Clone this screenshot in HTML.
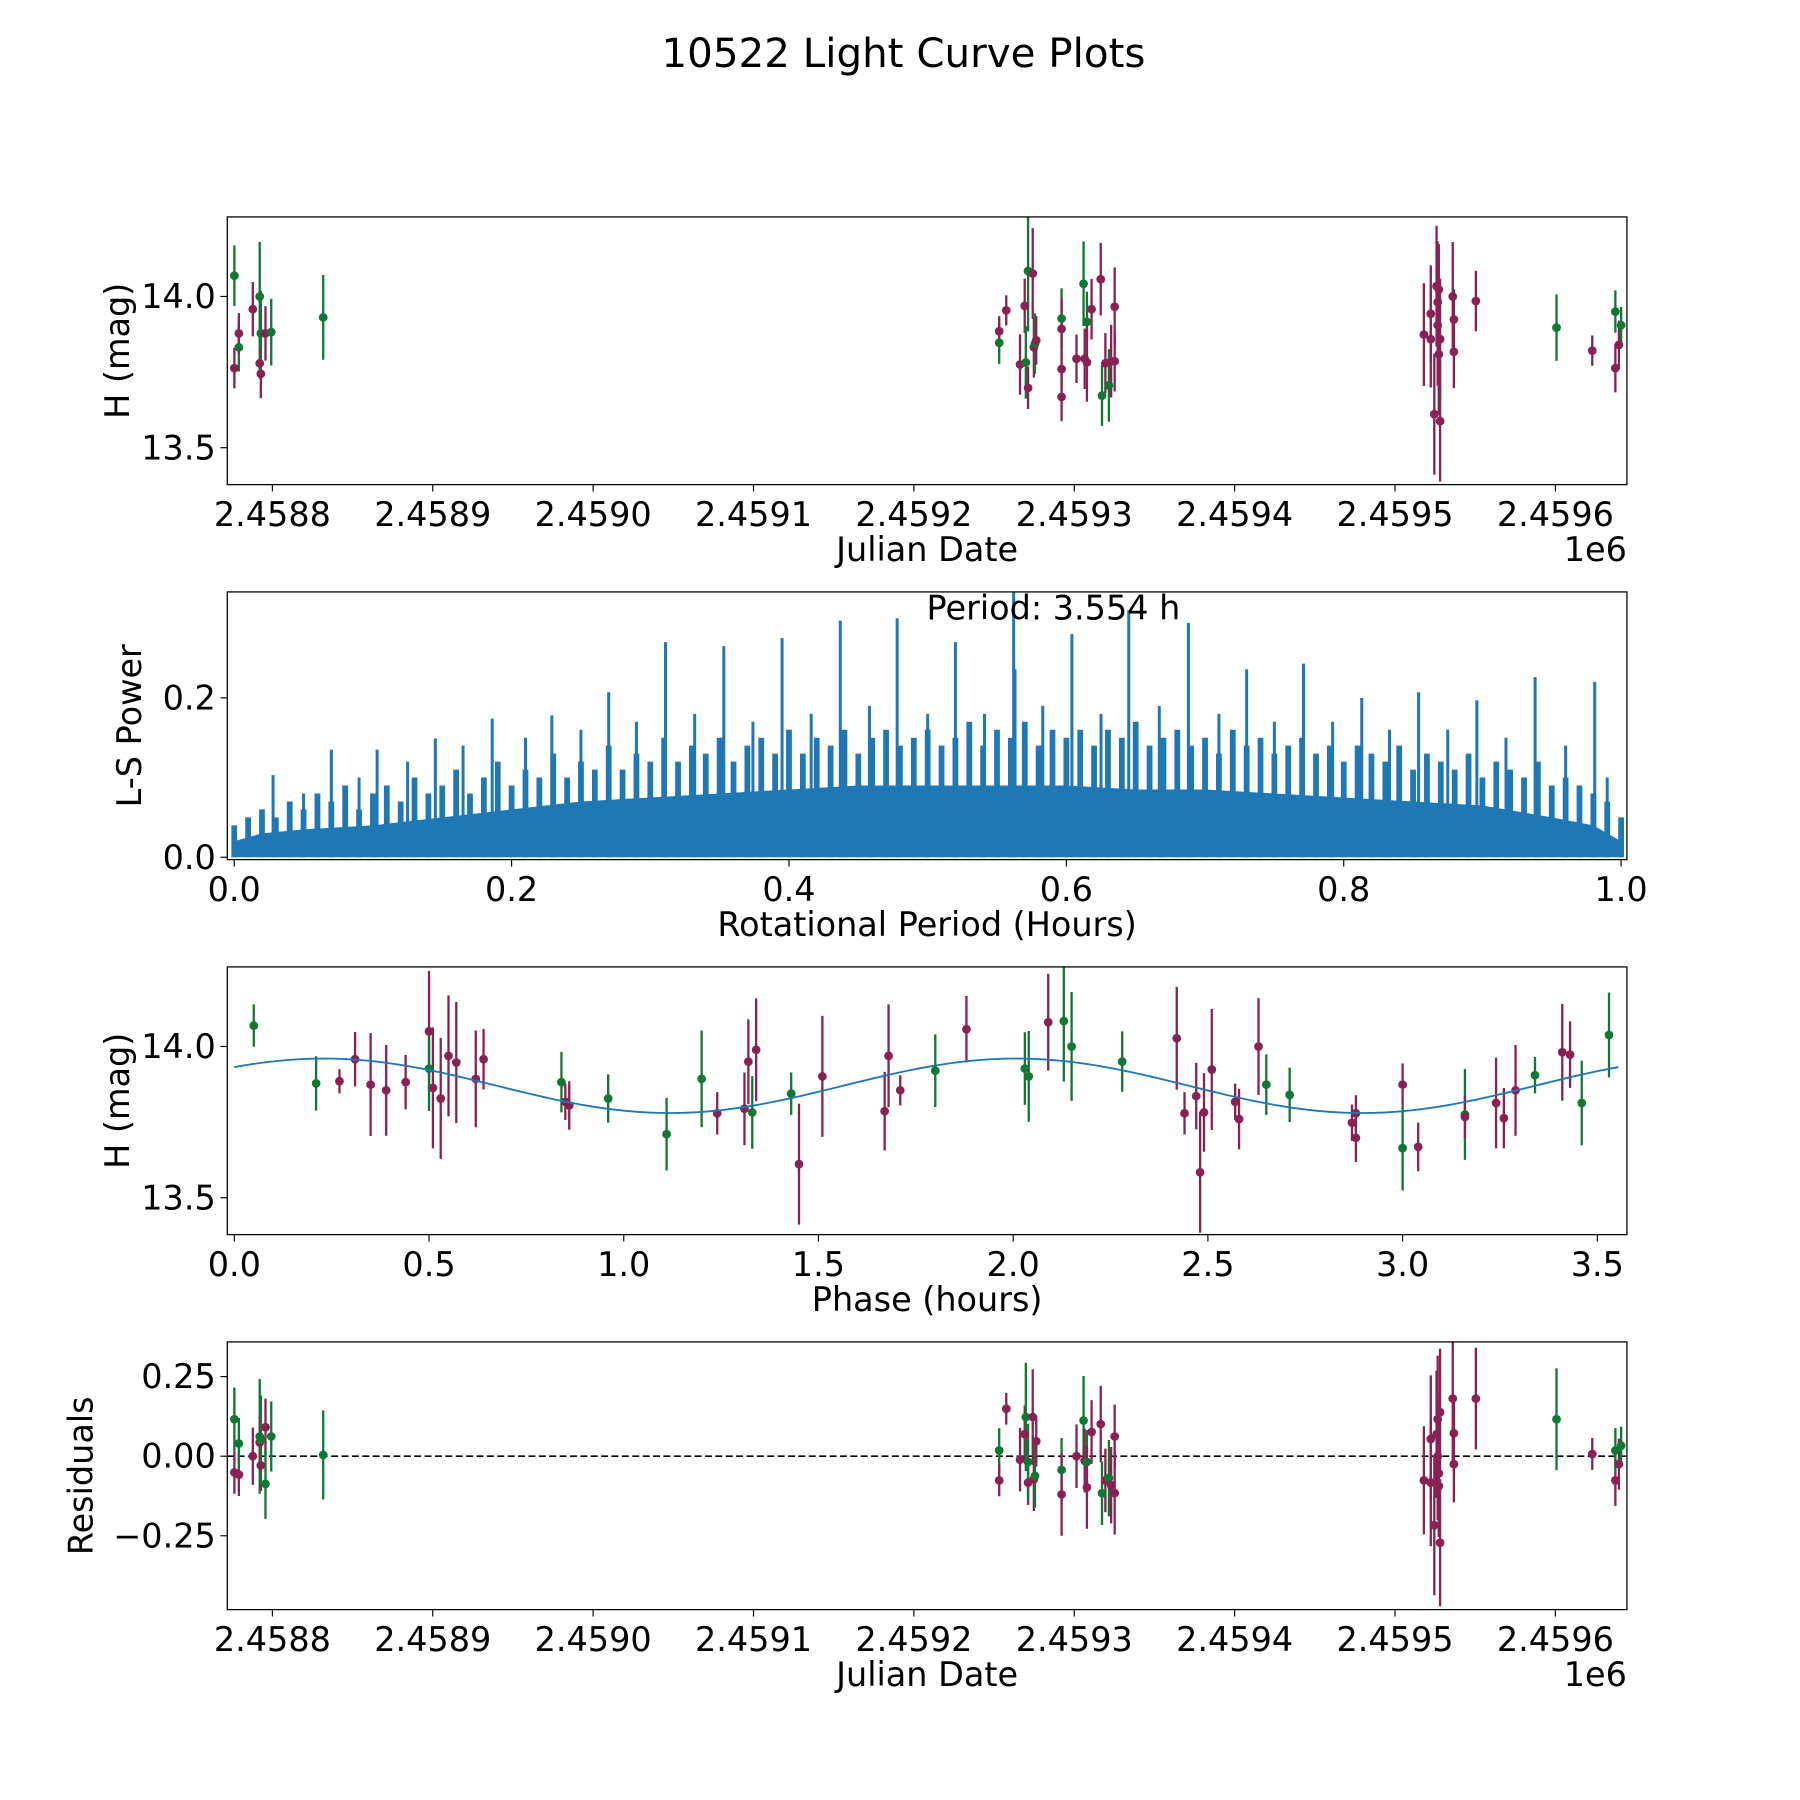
<!DOCTYPE html>
<html><head><meta charset="utf-8"><style>
html,body{margin:0;padding:0;background:#fff}
svg{display:block}
text{font-family:"DejaVu Sans","Liberation Sans",sans-serif;fill:#000}
</style></head><body>
<svg id="fig" xmlns="http://www.w3.org/2000/svg" width="1800" height="1800" viewBox="0 0 1560 1560">
<rect x="0" y="0" width="1560" height="1560" fill="#fff"/>
<text x="783" y="58" font-size="35" text-anchor="middle">10522 Light Curve Plots</text>
</svg>
<script>
// ---------- Panel 1: H mag vs Julian Date (JD - 2458000) ----------
const lcColor = ['g','m','g','m','m','g','m','m','g','m','g','g',
 'g','m','m','m','m','g','g','m','m','m','g','m','g','m','m','m','m','g','m','g','m','m','m','g','m','g','m','m','m',
 'm','m','m','m','m','m','m','m','m','m','m','m','m','m','m','g','m','m','g','m','g'];
const lcJD = [776.3,776.3,779.1,779.1,787.8,792.1,792.1,792.8,792.8,795.7,799.3,831.7,
 1253.2,1253.2,1257.6,1266.2,1269.1,1269.8,1271.2,1271.2,1274.1,1274.8,1275.5,1276.3,1292.1,1292.1,1292.1,1292.1,1301.4,1305.8,1306.5,1307.9,1307.9,1310.8,1316.5,1317.3,1319.4,1321.6,1323.0,1325.2,1325.2,
 1518.0,1522.3,1522.3,1524.5,1525.9,1526.6,1526.6,1527.3,1528.1,1528.1,1527.3,1536.0,1536.7,1536.7,1550.4,1600.7,1623.0,1637.4,1637.4,1639.6,1641.0];
const lcMag = [14.069,13.763,13.832,13.878,13.958,14.0,13.779,13.744,13.878,13.878,13.882,13.931,
 13.847,13.885,13.954,13.775,13.969,13.782,14.084,13.698,14.076,13.832,13.844,13.855,13.927,13.893,13.760,13.668,13.794,14.042,13.794,13.916,13.782,13.958,14.057,13.672,13.779,13.706,13.786,13.786,13.966,
 13.874,13.943,13.859,13.611,14.034,13.905,13.981,13.809,13.859,13.588,14.023,14.0,13.924,13.817,13.985,13.897,13.821,13.763,13.950,13.840,13.905];
const lcErr = [0.10,0.067,0.08,0.067,0.09,0.18,0.05,0.08,0.14,0.09,0.11,0.14,
 0.07,0.05,0.05,0.10,0.09,0.12,0.20,0.07,0.15,0.10,0.10,0.08,0.10,0.10,0.06,0.08,0.08,0.14,0.10,0.10,0.13,0.10,0.12,0.10,0.10,0.12,0.12,0.10,0.13,
 0.17,0.16,0.16,0.20,0.20,0.20,0.20,0.20,0.20,0.20,0.15,0.18,0.10,0.12,0.10,0.11,0.05,0.08,0.07,0.08,0.06];
const jdTicks = [800,900,1000,1100,1200,1300,1400,1500,1600];
const jdTickLabels = ['2.4588','2.4589','2.4590','2.4591','2.4592','2.4593','2.4594','2.4595','2.4596'];
const magTicks = [14.0,13.5];
const magTickLabels = ['14.0','13.5'];

// ---------- Panel 2: periodogram ----------
const lsBandP = [0.0,0.02,0.05,0.1,0.15,0.2,0.25,0.3,0.35,0.4,0.45,0.5,0.55,0.6,0.65,0.7,0.75,0.8,0.85,0.9,0.95,0.98,1.0];
const lsBandPow = [0.02,0.03,0.035,0.04,0.05,0.06,0.07,0.075,0.08,0.085,0.09,0.09,0.09,0.09,0.085,0.085,0.08,0.075,0.07,0.065,0.05,0.04,0.02];
const lsGrass = [0.04,0.05,0.06,0.05,0.07,0.06,0.08,0.07,0.09,0.06,0.08,0.09,0.07,0.10,0.08,0.09,0.11,0.08,0.10,0.12,
 0.09,0.11,0.10,0.13,0.10,0.12,0.11,0.14,0.11,0.13,0.12,0.15,0.12,0.14,0.13,0.15,0.12,0.14,0.15,0.13,
 0.16,0.13,0.15,0.14,0.16,0.13,0.15,0.16,0.14,0.15,0.16,0.14,0.15,0.17,0.14,0.16,0.15,0.17,0.14,0.16,
 0.15,0.16,0.14,0.16,0.15,0.17,0.14,0.15,0.16,0.14,0.15,0.13,0.16,0.14,0.15,0.13,0.14,0.15,0.13,0.14,
 0.12,0.14,0.13,0.12,0.14,0.11,0.13,0.12,0.11,0.13,0.10,0.12,0.11,0.10,0.12,0.09,0.10,0.09,0.08,0.07,0.05];
const lsSpikeP = [0.028,0.07,0.103,0.145,0.186,0.229,0.27,0.311,0.353,0.395,0.437,0.478,0.520,0.562,0.563,0.604,0.645,0.688,0.730,0.771,0.813,0.854,0.896,0.938,0.981,
 0.05,0.09,0.125,0.165,0.21,0.25,0.29,0.332,0.374,0.416,0.458,0.5,0.541,0.583,0.625,0.667,0.71,0.75,0.792,0.833,0.875,0.917,0.96,0.99];
const lsSpikePow = [0.103,0.135,0.135,0.149,0.174,0.178,0.207,0.27,0.265,0.275,0.297,0.30,0.27,0.333,0.236,0.28,0.31,0.294,0.236,0.243,0.20,0.207,0.197,0.226,0.22,
 0.08,0.1,0.12,0.14,0.15,0.16,0.17,0.18,0.17,0.18,0.19,0.18,0.18,0.19,0.18,0.19,0.18,0.17,0.17,0.16,0.16,0.15,0.14,0.1];
const lsTicksX = [0.0,0.2,0.4,0.6,0.8,1.0];
const lsTickLabelsX = ['0.0','0.2','0.4','0.6','0.8','1.0'];
const lsTicksY = [0.0,0.2];
const lsTickLabelsY = ['0.0','0.2'];

// ---------- Panel 3: phased ----------
const phColor = ['g','g','m','m','m','m','m','m','g','m','m','m','m','m','m','g','m','m','g','g','g','m','m','m','g','m','g','m','m','m','m','m','g','m','g','g','m','g','g','g','m','m','m','m','m','m','m','m','m','g','g','m','m','m','g','m','m','g','m','m','m','m','g','m','m','g','g'];
const phPhase = [0.05,0.21,0.27,0.31,0.35,0.39,0.44,0.50,0.50,0.51,0.53,0.55,0.57,0.62,0.64,0.84,0.85,0.86,0.96,1.11,1.20,1.24,1.31,1.32,1.33,1.34,1.43,1.45,1.51,1.67,1.68,1.71,1.80,1.88,2.03,2.04,2.09,2.13,2.15,2.28,2.42,2.44,2.47,2.48,2.49,2.51,2.57,2.58,2.63,2.65,2.71,2.87,2.88,2.88,3.00,3.00,3.04,3.16,3.16,3.24,3.26,3.29,3.34,3.41,3.43,3.46,3.53];
const phMag = [14.069,13.878,13.885,13.958,13.874,13.855,13.882,14.050,13.927,13.863,13.828,13.969,13.947,13.893,13.958,13.882,13.817,13.805,13.828,13.710,13.893,13.779,13.794,13.950,13.782,13.989,13.844,13.611,13.901,13.786,13.969,13.855,13.920,14.057,13.927,13.901,14.080,14.084,14.0,13.950,14.027,13.779,13.836,13.584,13.782,13.924,13.817,13.760,14.0,13.874,13.840,13.748,13.698,13.779,13.664,13.874,13.668,13.775,13.767,13.813,13.763,13.855,13.905,13.981,13.973,13.813,14.038];
const phErr = [0.07,0.09,0.04,0.09,0.17,0.15,0.09,0.2,0.14,0.2,0.2,0.2,0.2,0.16,0.1,0.1,0.06,0.08,0.08,0.12,0.16,0.07,0.12,0.14,0.12,0.17,0.07,0.2,0.2,0.13,0.17,0.05,0.12,0.11,0.12,0.15,0.16,0.2,0.18,0.1,0.17,0.07,0.11,0.2,0.13,0.2,0.06,0.1,0.16,0.1,0.09,0.06,0.08,0.06,0.14,0.07,0.08,0.15,0.07,0.15,0.1,0.15,0.06,0.16,0.11,0.14,0.14];
const fitMean = [13.87];
const fitAmp = [0.09];
const fitHalfPeriod = [1.777];
const fitPeakPhase = [0.23];
const fitPeriod = [3.554];
const phTicksX = [0.0,0.5,1.0,1.5,2.0,2.5,3.0,3.5];
const phTickLabelsX = ['0.0','0.5','1.0','1.5','2.0','2.5','3.0','3.5'];

// ---------- Panel 4: residuals ----------
const resColor = ['g','m','m','g','m','g','m','m','g','m','g','g','g',
 'g','m','m','m','m','g','m','g','m','m','g','m','g','m','m','g','m','g','m','m','m','g','m','g','m','m','m',
 'm','m','m','m','m','m','m','m','m','m','m','m','m','m','m','g','m','m','g','m','g'];
const resJD = [776.3,776.3,779.1,779.1,787.8,792.1,792.1,792.8,792.8,795.7,795.7,799.3,831.7,
 1253.2,1253.2,1257.6,1266.2,1269.1,1269.8,1271.2,1271.2,1274.1,1274.8,1275.5,1276.3,1292.1,1292.1,1301.4,1305.8,1306.5,1307.9,1307.9,1310.8,1316.5,1317.3,1319.4,1321.6,1323.0,1325.2,1325.2,
 1518.0,1522.3,1522.3,1524.5,1525.9,1526.6,1526.6,1527.3,1528.1,1528.1,1527.3,1536.0,1536.7,1536.7,1550.4,1600.7,1623.0,1637.4,1637.4,1639.6,1641.0];
const resVal = [0.116,-0.051,-0.058,0.04,0,0.062,0.043,-0.029,0.051,0.091,-0.087,0.062,0.004,
 0.018,-0.076,0.149,-0.011,0.069,0.123,-0.083,-0.018,0.123,-0.072,-0.062,0.047,-0.043,-0.12,0,0.112,-0.014,-0.018,-0.098,0.076,0.101,-0.116,-0.076,-0.069,-0.091,0.062,-0.116,
 -0.076,0.054,-0.083,-0.217,0.069,0.116,0,-0.054,0.138,-0.272,-0.094,0.181,0.072,-0.025,0.181,0.116,0.007,-0.076,0.018,-0.025,0.033];
const resErr = [0.1,0.067,0.067,0.08,0.09,0.18,0.09,0.08,0.14,0.09,0.11,0.11,0.14,
 0.07,0.05,0.05,0.1,0.09,0.17,0.07,0.12,0.15,0.1,0.1,0.08,0.1,0.13,0.1,0.14,0.1,0.1,0.13,0.1,0.12,0.1,0.1,0.12,0.12,0.1,0.13,
 0.17,0.2,0.2,0.22,0.2,0.2,0.2,0.2,0.2,0.2,0.15,0.2,0.12,0.12,0.16,0.16,0.05,0.08,0.07,0.08,0.06];
const resTicks = [0.25,0.0,-0.25];
const resTickLabels = ['0.25','0.00','\u22120.25'];

const NS='http://www.w3.org/2000/svg';
const svg=document.getElementById('fig');
const COL={g:'#117733',m:'#882255'};
const TICKFS=29, LABFS=29;
function mk(tag,attrs,parent){const e=document.createElementNS(NS,tag);for(const k in attrs)e.setAttribute(k,attrs[k]);(parent||svg).appendChild(e);return e;}

function makeAxes(name,x0,x1,y0,y1,xmin,xmax,ymin,ymax){
  const g=mk('g',{});
  
  
  const cp=mk('clipPath',{id:'cp-'+name},g);
  mk('rect',{x:x0,y:y0,width:x1-x0,height:y1-y0},cp);
  const plot=mk('g',{'clip-path':'url(#cp-'+name+')'},g);
  
  
  return {g,plot,x0,x1,y0,y1,
    sx:v=>x0+(v-xmin)/(xmax-xmin)*(x1-x0),
    sy:v=>y1-(v-ymin)/(ymax-ymin)*(y1-y0)};
}
function frame(ax){
  const r=mk('rect',{x:ax.x0,y:ax.y0,width:ax.x1-ax.x0,height:ax.y1-ax.y0,fill:'none',stroke:'#000','stroke-width':1.1},ax.g);
  
  
}
function xTicks(ax,vals,labels){
  vals.forEach((v,i)=>{const x=ax.sx(v);
    mk('line',{x1:x,x2:x,y1:ax.y1,y2:ax.y1+6,stroke:'#000','stroke-width':1},ax.g);
    const t=mk('text',{x:x,y:ax.y1+36,'font-size':TICKFS,'text-anchor':'middle'},ax.g);
    
    
    t.textContent=labels[i];});
}
function yTicks(ax,vals,labels){
  vals.forEach((v,i)=>{const y=ax.sy(v);
    mk('line',{x1:ax.x0-6,x2:ax.x0,y1:y,y2:y,stroke:'#000','stroke-width':1},ax.g);
    const t=mk('text',{x:ax.x0-10,y:y+10,'font-size':TICKFS,'text-anchor':'end'},ax.g);
    
    
    t.textContent=labels[i];});
}
function label(ax,xl,yl,ylx){
  const t=mk('text',{x:(ax.x0+ax.x1)/2,y:ax.y1+66,'font-size':LABFS,'text-anchor':'middle'},ax.g);
  
  
  t.textContent=xl;
  const cy=(ax.y0+ax.y1)/2;
  const u=mk('text',{x:ylx,y:cy,'font-size':LABFS,'text-anchor':'middle',transform:'rotate(-90 '+ylx+' '+cy+')'},ax.g);
  
  
  u.textContent=yl;
}
function errPoints(ax,xs,ys,es,cs,name){
  for(let i=0;i<xs.length;i++){
    const x=ax.sx(xs[i]),c=COL[cs[i]];
    const l=mk('line',{x1:x,x2:x,y1:ax.sy(ys[i]-es[i]),y2:ax.sy(ys[i]+es[i]),stroke:c,'stroke-width':2},ax.plot);
    
    
  }
  for(let i=0;i<xs.length;i++){
    const p=mk('circle',{cx:ax.sx(xs[i]),cy:ax.sy(ys[i]),r:3.8,fill:COL[cs[i]]},ax.plot);
    
    
  }
}
function exponent(ax){
  const t=mk('text',{x:ax.x1,y:ax.y1+66,'font-size':TICKFS,'text-anchor':'end'},ax.g);
  
  
  t.textContent='1e6';
}

// Panel 1
const ax1=makeAxes('light-curve-axes',197,1410,188,420,771.9,1644.6,13.378,14.263);
errPoints(ax1,lcJD,lcMag,lcErr,lcColor,'magnitude');
frame(ax1);xTicks(ax1,jdTicks,jdTickLabels);yTicks(ax1,magTicks,magTickLabels);
label(ax1,'Julian Date','H (mag)',112);exponent(ax1);

// Panel 2
const ax2=makeAxes('periodogram-axes',197,1410,513,745,-0.005,1.0042,-0.003,0.333);
let d='M'+ax2.sx(lsBandP[0])+' '+ax2.sy(0);
for(let i=0;i<lsBandP.length;i++) d+=' L'+ax2.sx(lsBandP[i])+' '+ax2.sy(lsBandPow[i]);
d+=' L'+ax2.sx(lsBandP[lsBandP.length-1])+' '+ax2.sy(0)+' Z';
const band=mk('path',{d:d,fill:'#1f77b4'},ax2.plot);


for(let i=0;i<lsGrass.length;i++){
  const x=ax2.sx(i/(lsGrass.length-1));
  const s=mk('line',{x1:x,x2:x,y1:ax2.sy(0),y2:ax2.sy(lsGrass[i]),stroke:'#1f77b4','stroke-width':5},ax2.plot);
  
  
}
for(let i=0;i<lsSpikeP.length;i++){
  const x=ax2.sx(lsSpikeP[i]);
  const s=mk('line',{x1:x,x2:x,y1:ax2.sy(0),y2:ax2.sy(lsSpikePow[i]),stroke:'#1f77b4','stroke-width':2.6},ax2.plot);
  
  
}
frame(ax2);xTicks(ax2,lsTicksX,lsTickLabelsX);yTicks(ax2,lsTicksY,lsTickLabelsY);
label(ax2,'Rotational Period (Hours)','L-S Power',122);
const pt=mk('text',{x:913,y:537,'font-size':LABFS,'text-anchor':'middle'},ax2.g);


pt.textContent='Period: '+fitPeriod[0].toFixed(3)+' h';

// Panel 3
const ax3=makeAxes('phased-axes',197,1410,838,1070,-0.018,3.576,13.378,14.263);
let fd='';
for(let k=0;k<=300;k++){const p=fitPeriod[0]*k/300;
  const m=fitMean[0]+fitAmp[0]*Math.cos(2*Math.PI*(p-fitPeakPhase[0])/fitHalfPeriod[0]);
  fd+=(k?' L':'M')+ax3.sx(p).toFixed(2)+' '+ax3.sy(m).toFixed(2);}
errPoints(ax3,phPhase,phMag,phErr,phColor,'phased');
const fit=mk('path',{d:fd,fill:'none',stroke:'#1f77b4','stroke-width':1.6},ax3.plot);


frame(ax3);xTicks(ax3,phTicksX,phTickLabelsX);yTicks(ax3,magTicks,magTickLabels);
label(ax3,'Phase (hours)','H (mag)',112);

// Panel 4
const ax4=makeAxes('residuals-axes',197,1410,1163,1395,771.9,1644.6,-0.482,0.359);
const zl=mk('line',{x1:197,x2:1410,y1:ax4.sy(0),y2:ax4.sy(0),stroke:'#000','stroke-width':1.5,'stroke-dasharray':'6,3'},ax4.plot);


errPoints(ax4,resJD,resVal,resErr,resColor,'residual');
frame(ax4);xTicks(ax4,jdTicks,jdTickLabels);yTicks(ax4,resTicks,resTickLabels);
label(ax4,'Julian Date','Residuals',80);exponent(ax4);
</script>
</body></html>
